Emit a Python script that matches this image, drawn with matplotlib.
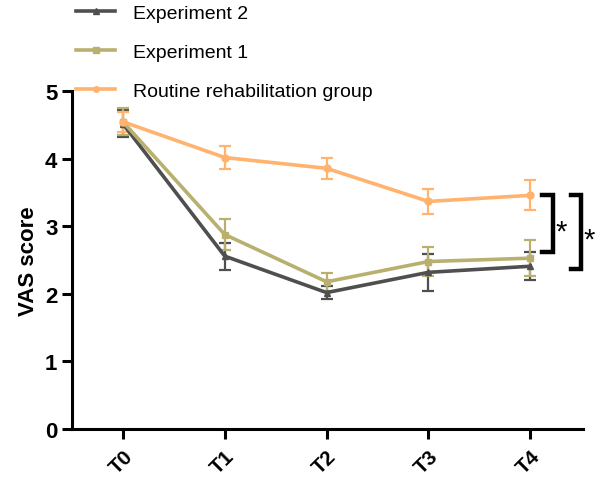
import matplotlib.pyplot as plt
from matplotlib.lines import Line2D

plt.rcParams['font.family'] = ['Liberation Sans', 'DejaVu Sans']

# time points and group means / SEM
timepoints = ['T0', 'T1', 'T2', 'T3', 'T4']
exp2_mean = [4.52, 2.56, 2.02, 2.32, 2.41]
exp2_err = [0.20, 0.20, 0.10, 0.27, 0.21]
exp1_mean = [4.55, 2.88, 2.18, 2.48, 2.53]
exp1_err = [0.20, 0.23, 0.13, 0.21, 0.27]
routine_mean = [4.55, 4.02, 3.86, 3.37, 3.46]
routine_err = [0.15, 0.17, 0.16, 0.19, 0.22]

labels = ['Experiment 2', 'Experiment 1', 'Routine rehabilitation group']
colors = ['#4f4f4f', '#b9b070', '#ffb36e']
markers = ['^', 's', 'o']

fig = plt.figure(figsize=(6, 4.81), dpi=100)
ax = fig.add_axes([0.12, 0.106, 0.852, 0.702])

x = list(range(len(timepoints)))
handles = []
for mean, err, c, m, lab in zip([exp2_mean, exp1_mean, routine_mean],
                                [exp2_err, exp1_err, routine_err],
                                colors, markers, labels):
    ax.errorbar(x, mean, yerr=err, color=c, marker=m, markersize=5,
                linewidth=2.6, elinewidth=1.6, capsize=4, capthick=1.6)
    handles.append(Line2D([], [], color=c, marker=m, markersize=4, linewidth=2.6))

ax.set_xlim(-0.5, 4.52)
ax.set_ylim(0, 5)
ax.set_yticks([0, 1, 2, 3, 4, 5])
ax.set_xticks(x)
ax.set_xticklabels(timepoints, rotation=45, ha='right', rotation_mode='anchor',
                   fontsize=15, fontweight='bold')
for t in ax.get_yticklabels():
    t.set_fontsize(16)
    t.set_fontweight('bold')
ax.set_ylabel('VAS score', fontsize=16, fontweight='bold')

for s in ['top', 'right']:
    ax.spines[s].set_visible(False)
for s in ['left', 'bottom']:
    ax.spines[s].set_linewidth(2.2)
ax.tick_params(width=2.2, length=7, direction='out')
ax.tick_params(axis='x', pad=5)

# significance brackets at T4
def bracket(x0, y_top, y_bot, xstar):
    ax.plot([x0, x0 + 0.1, x0 + 0.1, x0], [y_top, y_top, y_bot, y_bot],
            color='black', linewidth=3.2, clip_on=False, solid_joinstyle='miter')
    ax.text(xstar, (y_top + y_bot) / 2 - 0.12, '*', fontsize=21,
            ha='center', va='center', clip_on=False)

bracket(4.12, routine_mean[4] + 0.01, exp1_mean[4] + 0.09, 4.30)
bracket(4.40, routine_mean[4] + 0.01, exp2_mean[4] - 0.04, 4.58)

fig.legend(handles, labels, loc='upper left', bbox_to_anchor=(0.098, 1.025),
           frameon=False, fontsize=14, handlelength=2.0, labelspacing=1.1,
           handletextpad=0.9)

fig.savefig('out.png', dpi=100)
